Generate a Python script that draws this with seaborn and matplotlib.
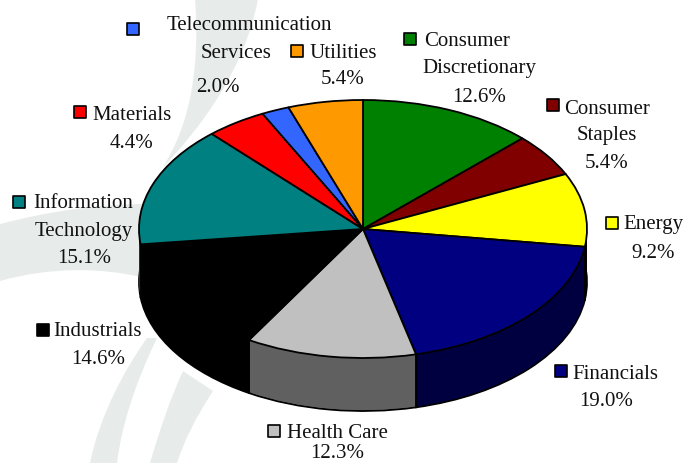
import numpy as np
import pandas as pd
import seaborn as sns
from matplotlib import pyplot as plt
from matplotlib.patches import PathPatch
from matplotlib.path import Path

# sector data, clockwise from 12 o'clock
sectors = ['Consumer Discretionary', 'Consumer Staples', 'Energy', 'Financials', 'Health Care',
           'Industrials', 'Information Technology', 'Materials', 'Telecommunication Services', 'Utilities']
weights = [12.6, 5.4, 9.2, 19.0, 12.3, 14.6, 15.1, 4.4, 2.0, 5.4]
pct_labels = ['12.6%', '5.4%', '9.2%', '19.0%', '12.3%', '14.6%', '15.1%', '4.4%', '2.0%', '5.4%']
colors = ['#008000', '#800000', '#FFFF00', '#000080', '#C0C0C0',
          '#000000', '#008080', '#FF0000', '#3366FF', '#FF9900']

W, H = 683, 464
# pie geometry in pixels
cx, cy, rx, ry, depth = 363, 230, 224, 129, 53

sns.set_theme(style='white')
plt.rcParams['font.family'] = ['Liberation Serif', 'DejaVu Serif']
palette = sns.color_palette(colors)
side_palette = [tuple(c * 0.5 for c in col) for col in palette]
# energy wall reads as black in the reference
side_palette[2] = (0, 0, 0)

fig = plt.figure(figsize=(W / 100, H / 100), dpi=100)

# pixel coordinate layer for watermark
bg = fig.add_axes([0, 0, 1, 1], zorder=0)
bg.set_xlim(0, W)
bg.set_ylim(H, 0)
bg.axis('off')
C, L, M = Path.CURVE4, Path.LINETO, Path.MOVETO
swooshes = [
    ([(195, 0), (200, 70), (190, 125), (163, 168), (200, 130), (245, 70), (258, 0), (195, 0)],
     [M, C, C, C, C, C, C, L]),
    ([(0, 225), (50, 212), (100, 205), (145, 205), (145, 245), (145, 279), (100, 268), (50, 268), (0, 282)],
     [M, C, C, C, L, L, C, C, C]),
    ([(90, 464), (100, 415), (125, 370), (147, 339), (157, 339), (135, 385), (122, 425), (117, 464), (90, 464)],
     [M, C, C, C, L, C, C, C, L]),
    ([(150, 464), (160, 430), (170, 400), (183, 372), (213, 392), (195, 420), (185, 440), (177, 464), (150, 464)],
     [M, C, C, C, L, C, C, C, L]),
]
for pts, codes in swooshes:
    bg.add_patch(PathPatch(Path(pts, codes), facecolor='#e7ecea', edgecolor='none'))

# pie layer, unit circle squashed by the axis limits
ax = fig.add_axes([0, 0, 1, 1], zorder=1)
ax.patch.set_alpha(0)
step = 1 / ry
for k in range(depth, 0, -1):
    edge = {'edgecolor': 'black', 'linewidth': 1.3} if k == depth else {'linewidth': 0}
    ax.pie(weights, colors=side_palette, startangle=90, counterclock=False, radius=1,
           center=(0, -k * step), wedgeprops=edge, normalize=True)
wedges, _ = ax.pie(weights, colors=palette, startangle=90, counterclock=False, radius=1,
                   center=(0, 0), wedgeprops={'edgecolor': 'black', 'linewidth': 1.3, 'joinstyle': 'round'})
# front edges of the visible side wall
for w in wedges:
    a = np.deg2rad(w.theta1)
    if np.sin(a) < 0:
        ax.plot([np.cos(a)] * 2, [np.sin(a), np.sin(a) - depth * step], color='black', lw=1.3)
ax.set_aspect('auto')
ax.set_xlim((0 - cx) / rx, (W - cx) / rx)
ax.set_ylim((cy - H) / ry, cy / ry)
ax.axis('off')

# labels and keys, pixel coordinates
top = fig.add_axes([0, 0, 1, 1], zorder=2)
top.patch.set_alpha(0)

key_x = [410, 553, 612, 561, 274, 43, 19, 80, 133, 297]
key_y = [40, 106, 224, 372, 432, 331, 203, 113, 30, 52]
keys = pd.DataFrame({'x': key_x, 'y': key_y, 'sector': sectors})
sns.scatterplot(data=keys, x='x', y='y', hue='sector', palette=colors, marker='s', s=82,
                edgecolor='black', linewidth=1.2, legend=False, ax=top, clip_on=False)
top.set_xlim(0, W)
top.set_ylim(H, 0)
top.axis('off')

name_lines = [
    ('Consumer', 467, 42), ('Discretionary', 479, 69),
    ('Consumer', 607, 109), ('Staples', 607, 136),
    ('Energy', 653, 225),
    ('Financials', 615, 375),
    ('Health Care', 337, 434),
    ('Industrials', 98, 332),
    ('Information', 83, 204), ('Technology', 84, 232),
    ('Materials', 132, 116),
    ('Telecommunication', 249, 26), ('Services', 236, 53),
    ('Utilities', 343, 53),
]
pct_pos = [(479, 97), (607, 164), (653, 253), (606, 402), (337, 454),
           (98, 360), (84, 259), (131, 144), (218, 87), (343, 80)]
for txt, x, y in name_lines:
    top.text(x, y, txt, ha='center', va='center', fontsize=15, color='#111111')
for txt, (x, y) in zip(pct_labels, pct_pos):
    top.text(x, y, txt, ha='center', va='center', fontsize=15, color='#111111')

fig.savefig('out.png', dpi=100, facecolor='white')
